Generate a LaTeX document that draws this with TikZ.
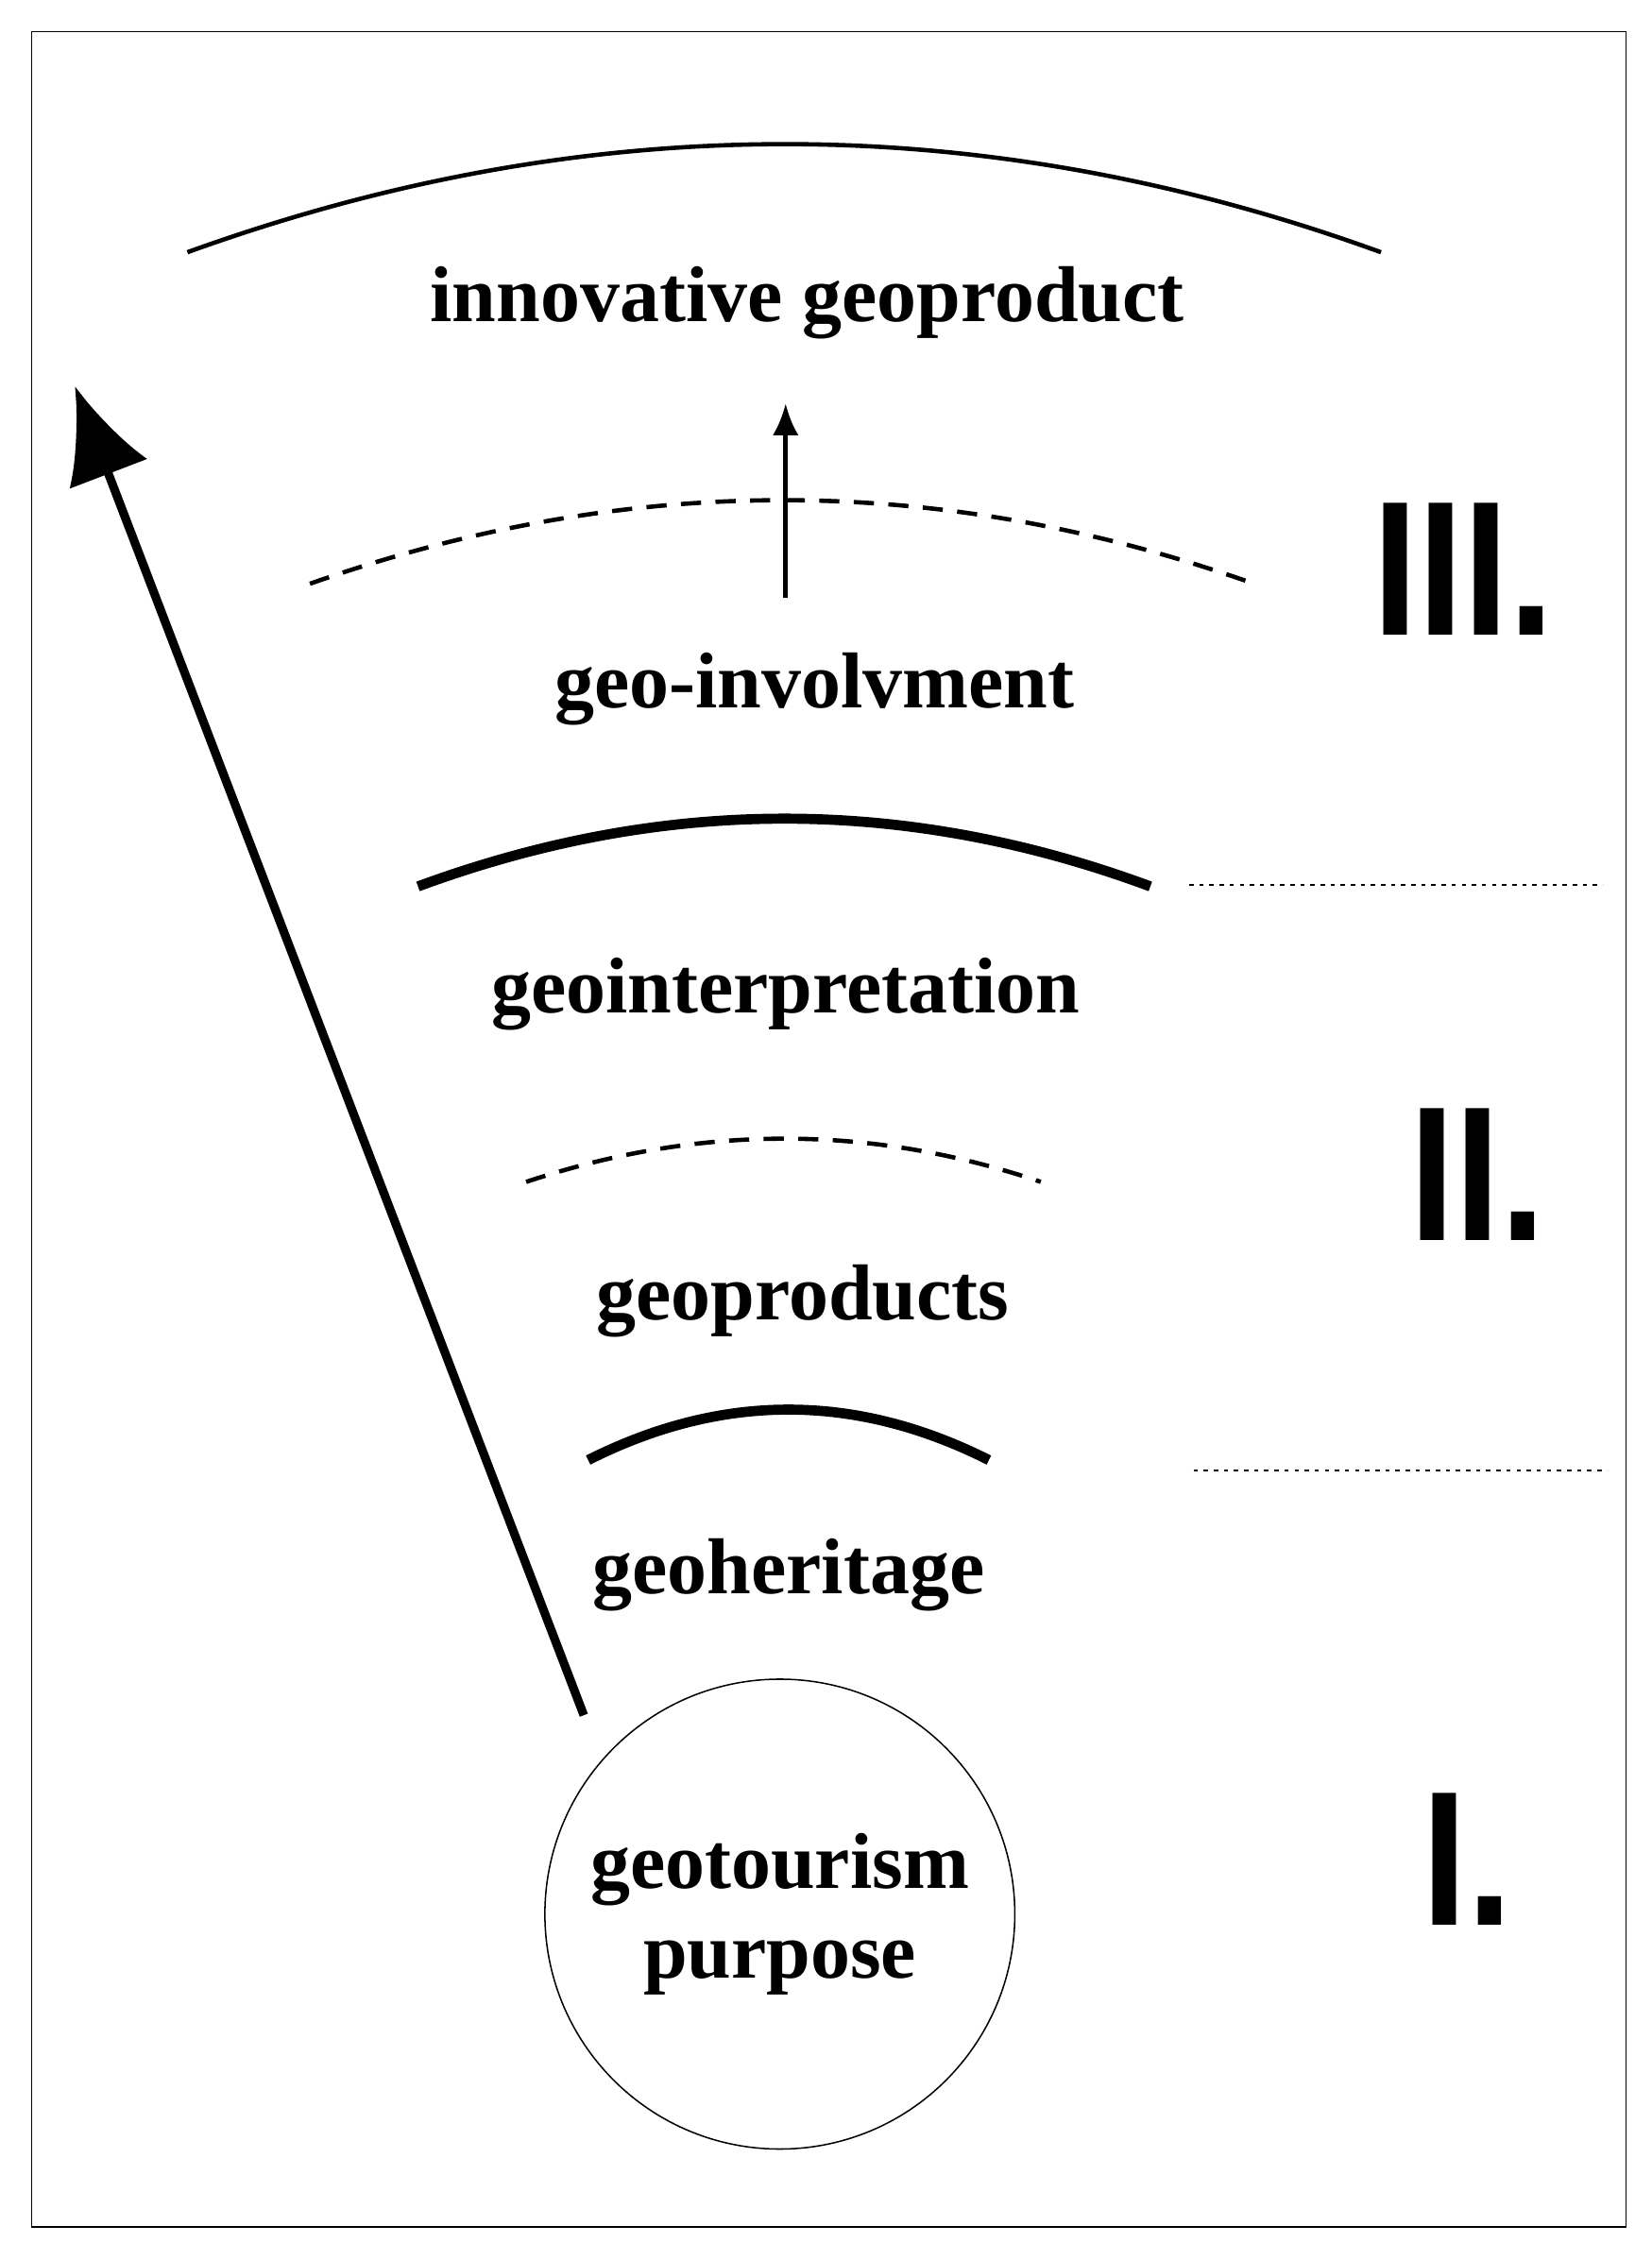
\documentclass[tikz,border=0pt]{standalone}
\usepackage{fontspec}
\setmainfont{Liberation Serif}
\newfontfamily\numfont{Liberation Sans}
\usetikzlibrary{arrows.meta}
\begin{document}
\begin{tikzpicture}[x=1pt,y=-1pt,
  lbl/.style={font=\fontsize{55}{60}\selectfont\bfseries,inner sep=0pt},
  num/.style={font=\fontsize{133}{140}\selectfont\numfont\bfseries,inner sep=0pt,xscale=0.85},
  dotln/.style={line width=1.5pt,dash pattern=on 3pt off 4pt}]
\useasboundingbox (0,0) rectangle (1146,1568);
\draw[line width=1pt] (22,22) rectangle (1128,1545);
\draw[line width=3pt] (130,175) .. controls (406.7,75) and (682.7,75) .. (958,175);
\node[lbl] (inn) at (560,210) {innovative geoproduct};
\coordinate (sa) at (545,415); \coordinate (sb) at (545,280);
\draw[line width=3pt,-{Latex[length=22pt,width=18pt]}] (sa) -- (sb);
\draw[line width=3pt,dash pattern=on 14pt off 10pt] (215,405) .. controls (435,327.7) and (651.7,327.7) .. (870,405);
\node[num] (n3) at (1015,395) {III.};
\node[lbl] (inv) at (565,478) {geo-involvment};
\draw[line width=7pt] (290,615) .. controls (460,552.3) and (628.7,552.3) .. (798,615);
\draw[dotln] (825,614) -- (1112,614);
\node[lbl] (int) at (545,690) {geointerpretation};
\draw[line width=3pt,dash pattern=on 14pt off 10pt] (365,820) .. controls (485,780) and (604,780) .. (722,820);
\node[num] (n2) at (1025,815) {II.};
\node[lbl] (gp) at (557,903) {geoproducts};
\draw[line width=7pt] (408,1013) .. controls (500.7,966.3) and (593.3,966.3) .. (686,1013);
\draw[dotln] (828,1020) -- (1115,1020);
\node[lbl] (gh) at (547,1093) {geoheritage};
\coordinate (ba) at (405,1190); \coordinate (bb) at (52,268);
\draw[line width=6pt,-{Latex[length=65pt,width=58pt]}] (ba) -- (bb);
\node[draw,circle,line width=1pt,minimum size=326pt,inner sep=0pt,align=center,
  font=\fontsize{55}{62}\selectfont\bfseries] (c) at (541,1328) {geotourism\\purpose};
\node[num] (n1) at (1018,1290) {I.};
\end{tikzpicture}
\end{document}
